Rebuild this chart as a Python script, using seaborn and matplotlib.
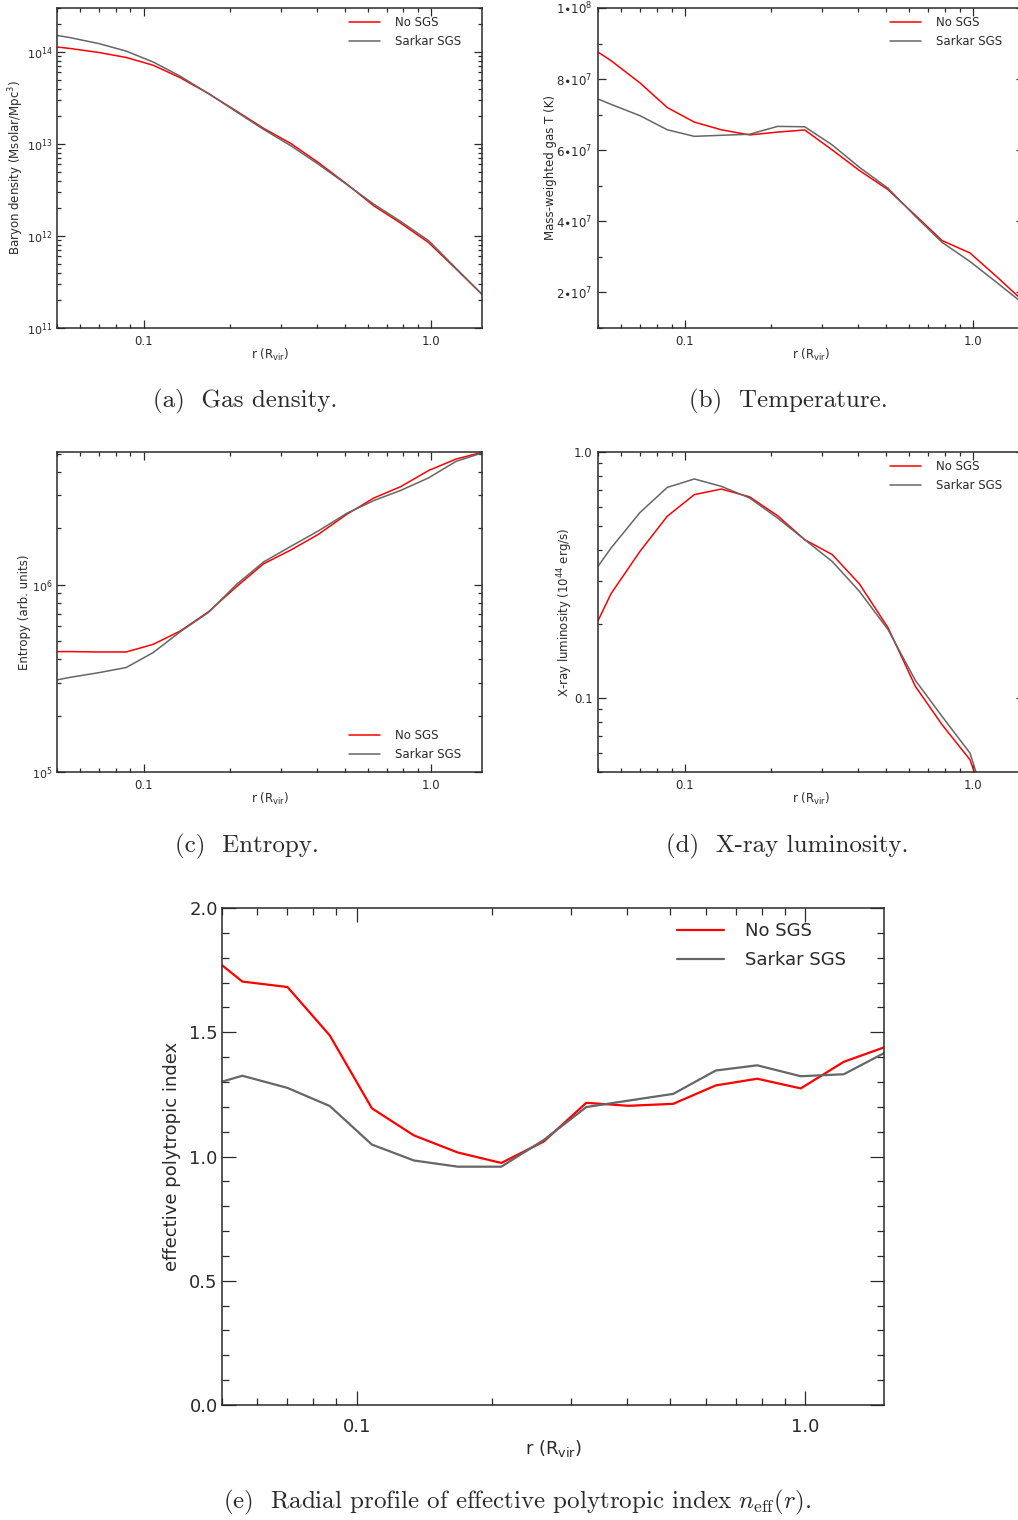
import numpy as np
import pandas as pd
import matplotlib
matplotlib.use("Agg")
import matplotlib.pyplot as plt
import matplotlib.ticker as mticker
import seaborn as sns

# ---------------------------------------------------------------------------
# Radial profiles of the simulated cluster, with and without the SGS model
# ---------------------------------------------------------------------------
r_bins = [0.05, 0.0555, 0.070, 0.087, 0.108, 0.134, 0.168, 0.210, 0.261,
          0.325, 0.404, 0.508, 0.632, 0.782, 0.978, 1.22, 1.50]   # r / R_vir

runs = ["No SGS", "Sarkar SGS"]

# baryon density (Msolar / Mpc^3)
density_nosgs = [1.13e14, 1.09e14, 9.85e13, 8.70e13, 7.16e13, 5.25e13, 3.53e13,
                 2.28e13, 1.48e13, 1.01e13, 6.31e12, 3.67e12, 2.12e12, 1.38e12,
                 8.49e11, 4.37e11, 2.32e11]
density_sarkar = [1.51e14, 1.43e14, 1.23e14, 1.02e14, 7.76e13, 5.45e13, 3.53e13,
                  2.24e13, 1.44e13, 9.55e12, 6.05e12, 3.63e12, 2.21e12, 1.44e12,
                  8.91e11, 4.44e11, 2.32e11]

# mass-weighted gas temperature (K)
temp_nosgs = [8.76e7, 8.52e7, 7.89e7, 7.20e7, 6.79e7, 6.575e7, 6.43e7, 6.51e7,
              6.57e7, 6.01e7, 5.43e7, 4.89e7, 4.17e7, 3.46e7, 3.11e7, 2.42e7, 1.75e7]
temp_sarkar = [7.44e7, 7.29e7, 6.97e7, 6.575e7, 6.39e7, 6.42e7, 6.45e7, 6.67e7,
               6.66e7, 6.15e7, 5.52e7, 4.93e7, 4.14e7, 3.41e7, 2.87e7, 2.26e7, 1.68e7]

# entropy (arbitrary units)
entropy_nosgs = [4.39e5, 4.39e5, 4.37e5, 4.37e5, 4.80e5, 5.65e5, 7.16e5, 9.73e5,
                 1.29e6, 1.53e6, 1.85e6, 2.37e6, 2.90e6, 3.33e6, 4.06e6, 4.68e6, 5.08e6]
entropy_sarkar = [3.10e5, 3.20e5, 3.39e5, 3.61e5, 4.34e5, 5.60e5, 7.10e5, 1.00e6,
                  1.32e6, 1.60e6, 1.93e6, 2.40e6, 2.81e6, 3.18e6, 3.71e6, 4.55e6, 5.04e6]

# X-ray luminosity (1e44 erg/s)
lx_nosgs = [0.206, 0.2655, 0.395, 0.548, 0.671, 0.707, 0.657, 0.551, 0.440,
            0.383, 0.291, 0.193, 0.1115, 0.0779, 0.0561, 0.0268, np.nan]
lx_sarkar = [0.343, 0.407, 0.568, 0.718, 0.777, 0.725, 0.650, 0.539, 0.440,
             0.359, 0.2714, 0.1896, 0.1179, 0.0842, 0.0597, 0.0264, np.nan]

# effective polytropic index
neff_nosgs = [1.770, 1.704, 1.682, 1.487, 1.194, 1.085, 1.016, 0.974, 1.060,
              1.216, 1.204, 1.212, 1.286, 1.313, 1.274, 1.381, 1.439]
neff_sarkar = [1.301, 1.325, 1.276, 1.203, 1.048, 0.984, 0.959, 0.959, 1.066,
               1.199, 1.225, 1.252, 1.346, 1.367, 1.323, 1.331, 1.416]

n = len(r_bins)
df = pd.DataFrame({
    "r": r_bins * 2,
    "run": [runs[0]] * n + [runs[1]] * n,
    "density": density_nosgs + density_sarkar,
    "temperature": temp_nosgs + temp_sarkar,
    "entropy": entropy_nosgs + entropy_sarkar,
    "lx": lx_nosgs + lx_sarkar,
    "neff": neff_nosgs + neff_sarkar,
})

palette = {"No SGS": "#ff0000", "Sarkar SGS": "#666666"}
INK = "#2a2a2a"

sns.set_style("ticks")
plt.rcParams["font.family"] = ["DejaVu Sans"]
plt.rcParams["mathtext.fontset"] = "dejavusans"
plt.rcParams["text.color"] = INK
plt.rcParams["axes.labelcolor"] = INK
plt.rcParams["axes.edgecolor"] = INK

W, H = 1018, 1520
fig = plt.figure(figsize=(W / 100, H / 100), dpi=100)


def add_axes_px(left, top, right, bottom):
    return fig.add_axes([left / W, 1 - bottom / H, (right - left) / W, (bottom - top) / H])


def draw_profile(ax, col, lw, fs, major_len, minor_len, legend_anchor,
                 xpad=5, ypad=4, xlabelpad=-1, spacing=0.5, textpad=1.3):
    sns.lineplot(data=df, x="r", y=col, hue="run", hue_order=runs, palette=palette,
                 linewidth=lw, errorbar=None, ax=ax)
    ax.set_xscale("log")
    ax.set_xlim(0.05, 1.5)
    ax.set_xticks([0.1, 1.0])
    ax.set_xticklabels(["0.1", "1.0"])
    ax.xaxis.set_minor_locator(mticker.LogLocator(base=10, subs=np.arange(2, 10), numticks=30))
    ax.xaxis.set_minor_formatter(mticker.NullFormatter())
    ax.set_xlabel(r"r (R$_{\rm vir}$)", fontsize=fs, labelpad=xlabelpad)
    ax.tick_params(which="both", direction="in", top=True, right=True,
                   colors=INK, labelsize=fs, width=0.9)
    ax.tick_params(which="major", length=major_len)
    ax.tick_params(which="minor", length=minor_len)
    ax.tick_params(axis="x", which="major", pad=xpad)
    ax.tick_params(axis="y", which="major", pad=ypad)
    for s in ax.spines.values():
        s.set_linewidth(1.1)
        s.set_color(INK)
    handles, labels = ax.get_legend_handles_labels()
    ax.legend(handles, labels, loc="upper left", bbox_to_anchor=legend_anchor,
              frameon=False, fontsize=fs, handlelength=2.6, handletextpad=textpad,
              labelspacing=spacing, borderpad=0, borderaxespad=0)


def log_minor(axis):
    axis.set_minor_locator(mticker.LogLocator(base=10, subs=np.arange(2, 10), numticks=30))
    axis.set_minor_formatter(mticker.NullFormatter())


FS = 8.5

# (a) gas density
ax_a = add_axes_px(57, 8, 482, 328)
draw_profile(ax_a, "density", 1.1, FS, 6, 3, (0.687, 0.975))
ax_a.set_yscale("log")
ax_a.set_ylim(1e11, 3e14)
ax_a.set_yticks([1e11, 1e12, 1e13, 1e14])
ax_a.set_yticklabels([r"$10^{11}$", r"$10^{12}$", r"$10^{13}$", r"$10^{14}$"])
log_minor(ax_a.yaxis)
ax_a.tick_params(axis="y", which="major", labelsize=8, pad=3)
ax_a.set_ylabel(r"Baryon density (Msolar/Mpc$^3$)", fontsize=FS, labelpad=1)

# (b) temperature
ax_b = add_axes_px(598, 8, 1023.5, 328)
draw_profile(ax_b, "temperature", 1.1, FS, 6, 3, (0.687, 0.975))
ax_b.set_ylim(1e7, 1e8)
ax_b.set_yticks([2e7, 4e7, 6e7, 8e7, 1e8])
ax_b.set_yticklabels([r"$2{\bullet}10^{7}$", r"$4{\bullet}10^{7}$", r"$6{\bullet}10^{7}$",
                      r"$8{\bullet}10^{7}$", r"$1{\bullet}10^{8}$"])
ax_b.yaxis.set_minor_locator(mticker.MultipleLocator(1e7))
ax_b.set_ylabel("Mass-weighted gas T (K)", fontsize=FS, labelpad=-1)

# (c) entropy
ax_c = add_axes_px(57, 452, 482, 772)
draw_profile(ax_c, "entropy", 1.1, FS, 6, 3, (0.687, 0.135))
ax_c.set_yscale("log")
ax_c.set_ylim(1e5, 5.1e6)
ax_c.set_yticks([1e5, 1e6])
ax_c.set_yticklabels([r"$10^{5}$", r"$10^{6}$"])
log_minor(ax_c.yaxis)
ax_c.tick_params(axis="y", which="major", labelsize=8, pad=3)
ax_c.set_ylabel("Entropy (arb. units)", fontsize=FS, labelpad=1)

# (d) X-ray luminosity
ax_d = add_axes_px(598, 452, 1023.5, 772)
draw_profile(ax_d, "lx", 1.1, FS, 6, 3, (0.687, 0.975))
ax_d.set_yscale("log")
ax_d.set_ylim(0.05, 1.0)
ax_d.set_yticks([0.1, 1.0])
ax_d.set_yticklabels(["0.1", "1.0"])
log_minor(ax_d.yaxis)
ax_d.set_ylabel(r"X-ray luminosity (10$^{44}$ erg/s)", fontsize=FS, labelpad=-1)

# (e) effective polytropic index
FS_E = 13
ax_e = add_axes_px(222, 908, 884, 1405)
draw_profile(ax_e, "neff", 1.6, FS_E, 10, 5, (0.688, 0.971),
             xpad=9, ypad=3, xlabelpad=1.5, spacing=0.6, textpad=1.15)
ax_e.set_ylim(0.0, 2.0)
ax_e.set_yticks([0.0, 0.5, 1.0, 1.5, 2.0])
ax_e.set_yticklabels(["0.0", "0.5", "1.0", "1.5", "2.0"])
ax_e.yaxis.set_minor_locator(mticker.MultipleLocator(0.1))
ax_e.set_ylabel("effective polytropic index", fontsize=FS_E, labelpad=6)

# sub-figure captions
cap = dict(family="cmr10", math_fontfamily="cm", fontsize=18,
           ha="center", va="center", color=INK)
fig.text(245.5 / W, 1 - 401 / H, "(a)  Gas density.", **cap)
fig.text(788 / W, 1 - 401 / H, "(b)  Temperature.", **cap)
fig.text(246.5 / W, 1 - 846 / H, "(c)  Entropy.", **cap)
fig.text(787.5 / W, 1 - 846 / H, "(d)  X-ray luminosity.", **cap)
fig.text(517 / W, 1 - 1502 / H,
         r"(e)  Radial profile of effective polytropic index $n_{\rm eff}(r)$.", **cap)

fig.savefig("out.png", dpi=100, facecolor="white")
